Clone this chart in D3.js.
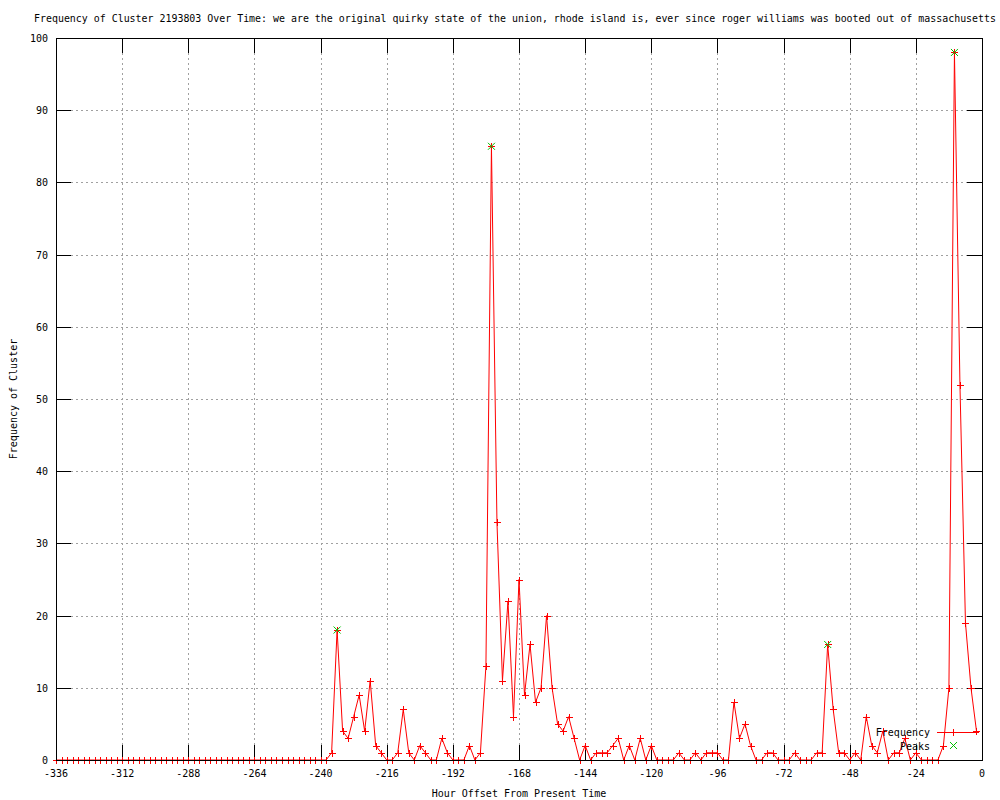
<!DOCTYPE html>
<html>
<head>
<meta charset="utf-8">
<script src="https://cdn.jsdelivr.net/npm/d3@7"></script>
<style>
  body { margin: 0; background: white; }
  text { font-family: "DejaVu Sans Mono", "Liberation Mono", monospace; font-size: 10px; fill: black; }
</style>
</head>
<body>
<div id="chart"></div>
<script>
// Data (one value every 2 hours, -336 .. -2)
const hours = d3.range(-336, 0, 2);
const frequency = [
  0,0,0,0,0,0,0,0,0,0, 0,0,0,0,0,0,0,0,0,0, 0,0,0,0,0,0,0,0,0,0,
  0,0,0,0,0,0,0,0,0,0, 0,0,0,0,0,0,0,0,0,0,
  1,18,4,3,6,9,4,11,2,1,
  0,0,1,7,1,0,2,1,0,0,
  3,1,0,0,0,2,0,1,13,85,
  33,11,22,6,25,9,16,8,10,20,
  10,5,4,6,3,0,2,0,1,1,
  1,2,3,0,2,0,3,0,2,0,
  0,0,0,1,0,0,1,0,1,1,
  1,0,0,8,3,5,2,0,0,1,
  1,0,0,0,1,0,0,0,1,1,
  16,7,1,1,0,1,0,6,2,1,
  4,0,1,1,3,0,1,0,0,0,
  0,2,10,98,52,19,10,4
];
const peakHours  = [-234, -178, -56, -10];
const peakValues = [18, 85, 16, 98];
const xTicks = [-336, -312, -288, -264, -240, -216, -192, -168, -144, -120, -96, -72, -48, -24, 0];
const yTicks = [0, 10, 20, 30, 40, 50, 60, 70, 80, 90, 100];

const title = "Frequency of Cluster 2193803 Over Time: we are the original quirky state of the union, rhode island is, ever since roger williams was booted out of massachusetts";

const config = {
  width      : 1000,
  height     : 800,
  left       : 56,
  right      : 982,
  top        : 38,
  bottom     : 760,
  tickLength : 15,
  lineColor  : "#ff0000",
  peakColor  : "#00c000",
  gridColor  : "#a0a0a0",
};

const svg = d3.select("#chart")
  .append("svg")
    .attr("width", config.width)
    .attr("height", config.height);

svg.append("rect")
  .attr("width", config.width)
  .attr("height", config.height)
  .attr("fill", "white");

const x = d3.scaleLinear().domain([-336, 0]).range([config.left, config.right]);
const y = d3.scaleLinear().domain([0, 100]).range([config.bottom, config.top]);

const crisp = v => Math.round(v) + 0.5;

// grid
const grid = svg.append("g")
  .attr("stroke", config.gridColor)
  .attr("stroke-dasharray", "2,3")
  .attr("shape-rendering", "crispEdges");

grid.selectAll(".gx")
  .data(xTicks.filter(d => d > -336 && d < 0))
  .enter().append("line")
    .attr("x1", d => crisp(x(d))).attr("x2", d => crisp(x(d)))
    .attr("y1", config.top).attr("y2", config.bottom);

grid.selectAll(".gy")
  .data(yTicks.filter(d => d > 0 && d < 100))
  .enter().append("line")
    .attr("y1", d => crisp(y(d))).attr("y2", d => crisp(y(d)))
    .attr("x1", config.left).attr("x2", config.right);

// ticks on all four sides
const ticks = svg.append("g")
  .attr("stroke", "black")
  .attr("shape-rendering", "crispEdges");

xTicks.forEach(function(d){
  ticks.append("line")
    .attr("x1", crisp(x(d))).attr("x2", crisp(x(d)))
    .attr("y1", config.bottom).attr("y2", config.bottom - config.tickLength);
  ticks.append("line")
    .attr("x1", crisp(x(d))).attr("x2", crisp(x(d)))
    .attr("y1", config.top).attr("y2", config.top + config.tickLength);
});
yTicks.forEach(function(d){
  ticks.append("line")
    .attr("y1", crisp(y(d))).attr("y2", crisp(y(d)))
    .attr("x1", config.left).attr("x2", config.left + config.tickLength);
  ticks.append("line")
    .attr("y1", crisp(y(d))).attr("y2", crisp(y(d)))
    .attr("x1", config.right).attr("x2", config.right - config.tickLength);
});

// tick labels
svg.append("g").selectAll("text")
  .data(xTicks)
  .enter().append("text")
    .attr("x", d => x(d))
    .attr("y", 777)
    .attr("text-anchor", "middle")
    .text(d => d);

svg.append("g").selectAll("text")
  .data(yTicks)
  .enter().append("text")
    .attr("x", 48)
    .attr("y", d => y(d) + 4)
    .attr("text-anchor", "end")
    .text(d => d);

// frequency line + points
const data = hours.map((h, i) => ({ h: h, v: frequency[i] }));

svg.append("path")
  .datum(data)
  .attr("fill", "none")
  .attr("stroke", config.lineColor)
  .attr("stroke-width", 1)
  .attr("d", d3.line().x(d => x(d.h)).y(d => y(d.v)));

const plus = (cx, cy, r) => `M${cx - r},${cy}H${cx + r}M${cx},${cy - r}V${cy + r}`;
const cross = (cx, cy, r) => `M${cx - r},${cy - r}L${cx + r},${cy + r}M${cx - r},${cy + r}L${cx + r},${cy - r}`;

svg.append("g").selectAll("path")
  .data(data)
  .enter().append("path")
    .attr("d", d => plus(crisp(x(d.h)), crisp(y(d.v)), 3.5))
    .attr("stroke", config.lineColor)
    .attr("stroke-width", 1)
    .attr("shape-rendering", "crispEdges");

// peaks
svg.append("g").selectAll("path")
  .data(peakHours)
  .enter().append("path")
    .attr("d", (d, i) => cross(x(d), y(peakValues[i]), 3.5))
    .attr("stroke", config.peakColor)
    .attr("stroke-width", 1);

// border
svg.append("rect")
  .attr("x", config.left + 0.5)
  .attr("y", config.top + 0.5)
  .attr("width", config.right - config.left)
  .attr("height", config.bottom - config.top)
  .attr("fill", "none")
  .attr("stroke", "black")
  .attr("shape-rendering", "crispEdges");

// legend
svg.append("text").attr("x", 930).attr("y", 736).attr("text-anchor", "end").text("Frequency");
svg.append("line")
  .attr("x1", 937).attr("x2", 979).attr("y1", 732.5).attr("y2", 732.5)
  .attr("stroke", config.lineColor);
svg.append("path").attr("d", plus(953.5, 732.5, 3.5)).attr("stroke", config.lineColor);
svg.append("text").attr("x", 930).attr("y", 750).attr("text-anchor", "end").text("Peaks");
svg.append("path").attr("d", cross(953.5, 745.5, 3.5)).attr("stroke", config.peakColor);

// titles
svg.append("text")
  .attr("x", 34)
  .attr("y", 22)
  .attr("textLength", 962)
  .attr("lengthAdjust", "spacingAndGlyphs")
  .text(title);

svg.append("text")
  .attr("x", (config.left + config.right) / 2)
  .attr("y", 797)
  .attr("text-anchor", "middle")
  .text("Hour Offset From Present Time");

svg.append("text")
  .attr("transform", "translate(17," + ((config.top + config.bottom) / 2) + ") rotate(-90)")
  .attr("text-anchor", "middle")
  .text("Frequency of Cluster");
</script>
</body>
</html>
